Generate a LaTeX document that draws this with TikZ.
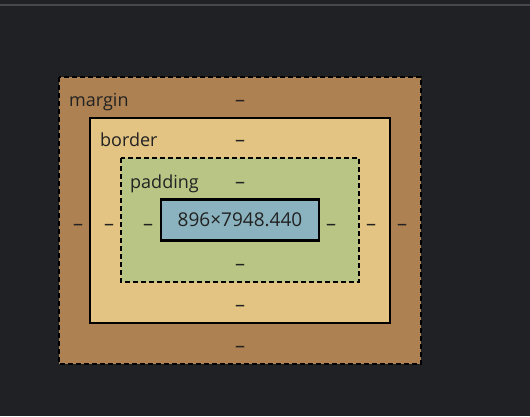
\documentclass[tikz,border=0pt]{standalone}
\usepackage{fontspec}
\setmainfont{Open Sans}
\begin{document}
\begin{tikzpicture}[x=1pt,y=-1pt,
  lbl/.style={text=txt,inner sep=0pt,anchor=base west,font=\fontsize{18}{20}\selectfont},
  dsh/.style={text=txt,inner sep=0pt,font=\fontsize{20}{22}\selectfont,yshift=-3.5},
  dashbox/.style={draw=black,line width=2.5,dash pattern=on 5 off 3},
  solidbox/.style={draw=black,line width=2.5}]
\definecolor{bg}{HTML}{202124}
\definecolor{topline}{HTML}{47484C}
\definecolor{mcol}{HTML}{AD8152}
\definecolor{bcol}{HTML}{E3C482}
\definecolor{pcol}{HTML}{B8C584}
\definecolor{ccol}{HTML}{8AB3BF}
\definecolor{txt}{HTML}{222222}
\useasboundingbox (0,0) rectangle (530,416);
\fill[bg] (0,0) rectangle (530,416);
\fill[topline] (0,4) rectangle (530,6);
% boxes
\path[fill=mcol,dashbox] (59,77) rectangle (421,364);
\path[fill=bcol,solidbox] (90,118) rectangle (390,323);
\path[fill=pcol,dashbox] (121,158) rectangle (359,282);
\node[fill=ccol,draw=black,line width=2.5,minimum width=158,minimum height=41,inner sep=0pt,
  font=\fontsize{19}{21}\selectfont,text=txt] (content) at (240,220) {896×7948.440};
% labels
\node[lbl] (ml) at (69,106) {margin};
\node[lbl] (bl) at (100,146) {border};
\node[lbl] (pl) at (130,188) {padding};
% dashes
\node[dsh] (mt) at (240,100) {–};
\node[dsh] (mb) at (240,346) {–};
\node[dsh] (mlft) at (78,224) {–};
\node[dsh] (mr) at (402,224) {–};
\node[dsh] (bt) at (240,140) {–};
\node[dsh] (bb) at (240,305) {–};
\node[dsh] (blft) at (109,224) {–};
\node[dsh] (br) at (371,224) {–};
\node[dsh] (pt) at (240,182) {–};
\node[dsh] (pb) at (240,264) {–};
\node[dsh] (plft) at (148,224) {–};
\node[dsh] (pr) at (331,224) {–};
\end{tikzpicture}
\end{document}
